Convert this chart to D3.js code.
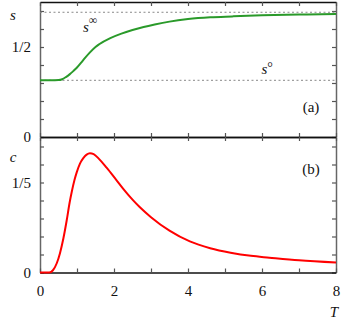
<!DOCTYPE html>
<html>
<head>
<meta charset="utf-8">
<script src="https://cdn.jsdelivr.net/npm/d3@7"></script>
<style>
  body { margin: 0; background: #fff; }
</style>
</head>
<body>
<div id="chart"></div>
<script>
// values
var sT = [0, 0.3, 0.5, 0.6, 0.7, 0.8, 0.9, 1.0, 1.1, 1.2, 1.35, 1.5, 1.6, 1.9, 2.2, 2.5, 2.8, 3.1, 3.5, 4.0, 4.6, 5.2, 6.0, 7.0, 8.0];
var sVal = [0.315, 0.315, 0.316, 0.321, 0.333, 0.348, 0.366, 0.386, 0.41, 0.435, 0.47, 0.5, 0.515, 0.549, 0.574, 0.594, 0.611, 0.625, 0.641, 0.655, 0.665, 0.670, 0.676, 0.680, 0.683];
var cT = [0, 0.25, 0.35, 0.45, 0.54, 0.63, 0.72, 0.8, 0.86, 0.93, 0.99, 1.08, 1.17, 1.26, 1.35, 1.45, 1.6, 1.8, 2.05, 2.25, 2.5, 2.7, 3.0, 3.5, 4.05, 4.6, 5.15, 5.7, 6.2, 7.0, 8.0];
var cVal = [0, 0, 0.005, 0.02, 0.043, 0.075, 0.115, 0.155, 0.18, 0.205, 0.222, 0.242, 0.254, 0.262, 0.265, 0.263, 0.252, 0.233, 0.207, 0.186, 0.162, 0.145, 0.123, 0.093, 0.069, 0.054, 0.044, 0.037, 0.033, 0.027, 0.022];
var sInf = 0.693;
var sZero = 0.315;
var xTicks = [0, 1, 2, 3, 4, 5, 6, 7, 8];
var xLabels = { 0: "0", 2: "2", 4: "4", 6: "6", 8: "8" };
var sTicks = [0, 0.1, 0.2, 0.3, 0.4, 0.5, 0.6, 0.7];
var sLabels = { 0: "0", 0.5: "1/2" };
var cTicks = [0, 0.04, 0.08, 0.12, 0.16, 0.2, 0.24, 0.28];
var cLabels = { 0: "0", 0.2: "1/5" };

var FONT = "Liberation Serif";
var svgWidth = 342, svgHeight = 324;
var svg = d3.select("#chart").append("svg")
  .attr("width", svgWidth)
  .attr("height", svgHeight)
  .attr("font-family", FONT);

var x = d3.scaleLinear().domain([0, 8]).range([40, 336]);
var yS = d3.scaleLinear().domain([0, 0.75]).range([137, 2]);
var yC = d3.scaleLinear().domain([0, 0.3]).range([272.5, 137.5]);

function styleAxis(g, color) {
  g.attr("font-family", FONT).style("font-family", FONT);
  g.select(".domain").attr("stroke", color).attr("stroke-width", 1.5);
  g.selectAll(".tick line").attr("stroke", "#555").attr("stroke-width", 1.2);
  g.selectAll(".tick text").attr("font-size", 15).attr("fill", "#111")
    .style("font-family", FONT);
}

// left axes (inward ticks)
var gl1 = svg.append("g").attr("transform", "translate(40,0)")
  .call(d3.axisLeft(yS).tickValues(sTicks).tickSizeInner(-4).tickSizeOuter(0).tickPadding(9)
    .tickFormat(d => sLabels[Math.round(d * 10) / 10] || ""));
styleAxis(gl1, "#666");
var gl2 = svg.append("g").attr("transform", "translate(40,0)")
  .call(d3.axisLeft(yC).tickValues(cTicks).tickSizeInner(-4).tickSizeOuter(0).tickPadding(9)
    .tickFormat(d => cLabels[Math.round(d * 100) / 100] || ""));
styleAxis(gl2, "#666");

// right axes
var gr1 = svg.append("g").attr("transform", "translate(336,0)")
  .call(d3.axisRight(yS).tickValues(sTicks).tickSizeInner(-4).tickSizeOuter(0).tickFormat(""));
styleAxis(gr1, "#666");
var gr2 = svg.append("g").attr("transform", "translate(336,0)")
  .call(d3.axisRight(yC).tickValues(cTicks).tickSizeInner(-4).tickSizeOuter(0).tickFormat(""));
styleAxis(gr2, "#666");

// top frame
var gt = svg.append("g").attr("transform", "translate(0,2)")
  .call(d3.axisTop(x).tickValues(xTicks).tickSizeInner(-4).tickSizeOuter(0).tickFormat(""));
styleAxis(gt, "#111");

// middle line: ticks up into (a) and down into (b)
var gm1 = svg.append("g").attr("transform", "translate(0,137)")
  .call(d3.axisBottom(x).tickValues(xTicks).tickSizeInner(-4).tickSizeOuter(0).tickFormat(""));
styleAxis(gm1, "#111");
var gm2 = svg.append("g").attr("transform", "translate(0,137)")
  .call(d3.axisTop(x).tickValues(xTicks).tickSizeInner(-4).tickSizeOuter(0).tickFormat(""));
styleAxis(gm2, "#111");

// bottom axis with labels
var gb = svg.append("g").attr("transform", "translate(0,272.5)")
  .call(d3.axisBottom(x).tickValues(xTicks).tickSizeInner(-4).tickSizeOuter(0).tickPadding(13)
    .tickFormat(d => xLabels[d] || ""));
styleAxis(gb, "#111");

// dotted reference lines
[sInf, sZero].forEach(function(v) {
  svg.append("line")
    .attr("x1", x(0)).attr("x2", x(8))
    .attr("y1", yS(v)).attr("y2", yS(v))
    .attr("stroke", "#888")
    .attr("stroke-width", 1)
    .attr("stroke-dasharray", "2,2.5");
});

// curves
var sData = sT.map((t, i) => [t, sVal[i]]);
var cData = cT.map((t, i) => [t, cVal[i]]);

svg.append("path")
  .datum(sData)
  .attr("fill", "none")
  .attr("stroke", "#2a9a2a")
  .attr("stroke-width", 2)
  .attr("d", d3.line().x(d => x(d[0])).y(d => yS(d[1])).curve(d3.curveMonotoneX));

svg.append("path")
  .datum(cData)
  .attr("fill", "none")
  .attr("stroke", "#ff0000")
  .attr("stroke-width", 2)
  .attr("d", d3.line().x(d => x(d[0])).y(d => yC(d[1])).curve(d3.curveMonotoneX));

// labels
function label(txt, px, py, italic, anchor) {
  return svg.append("text")
    .attr("x", px).attr("y", py)
    .style("font-family", FONT)
    .attr("font-size", 15)
    .attr("font-style", italic ? "italic" : "normal")
    .attr("text-anchor", anchor || "middle")
    .attr("fill", "#111")
    .text(txt);
}
label("s", 13, 19.5, true);
label("c", 13, 162, true);
label("T", 334, 316.5, true);
label("(a)", 311, 112, false);
label("(b)", 311, 174, false);

var sinf = svg.append("text").attr("x", 83).attr("y", 31.5)
  .style("font-family", FONT).attr("font-size", 15).attr("fill", "#111");
sinf.append("tspan").attr("font-style", "italic").text("s");
sinf.append("tspan").attr("font-size", 12).attr("dy", -8).text("∞");

var szero = svg.append("text").attr("x", 261.5).attr("y", 73.5)
  .style("font-family", FONT).attr("font-size", 15).attr("fill", "#111");
szero.append("tspan").attr("font-style", "italic").text("s");
szero.append("tspan").attr("font-size", 14).attr("dy", -2).text("°");
</script>
</body>
</html>
